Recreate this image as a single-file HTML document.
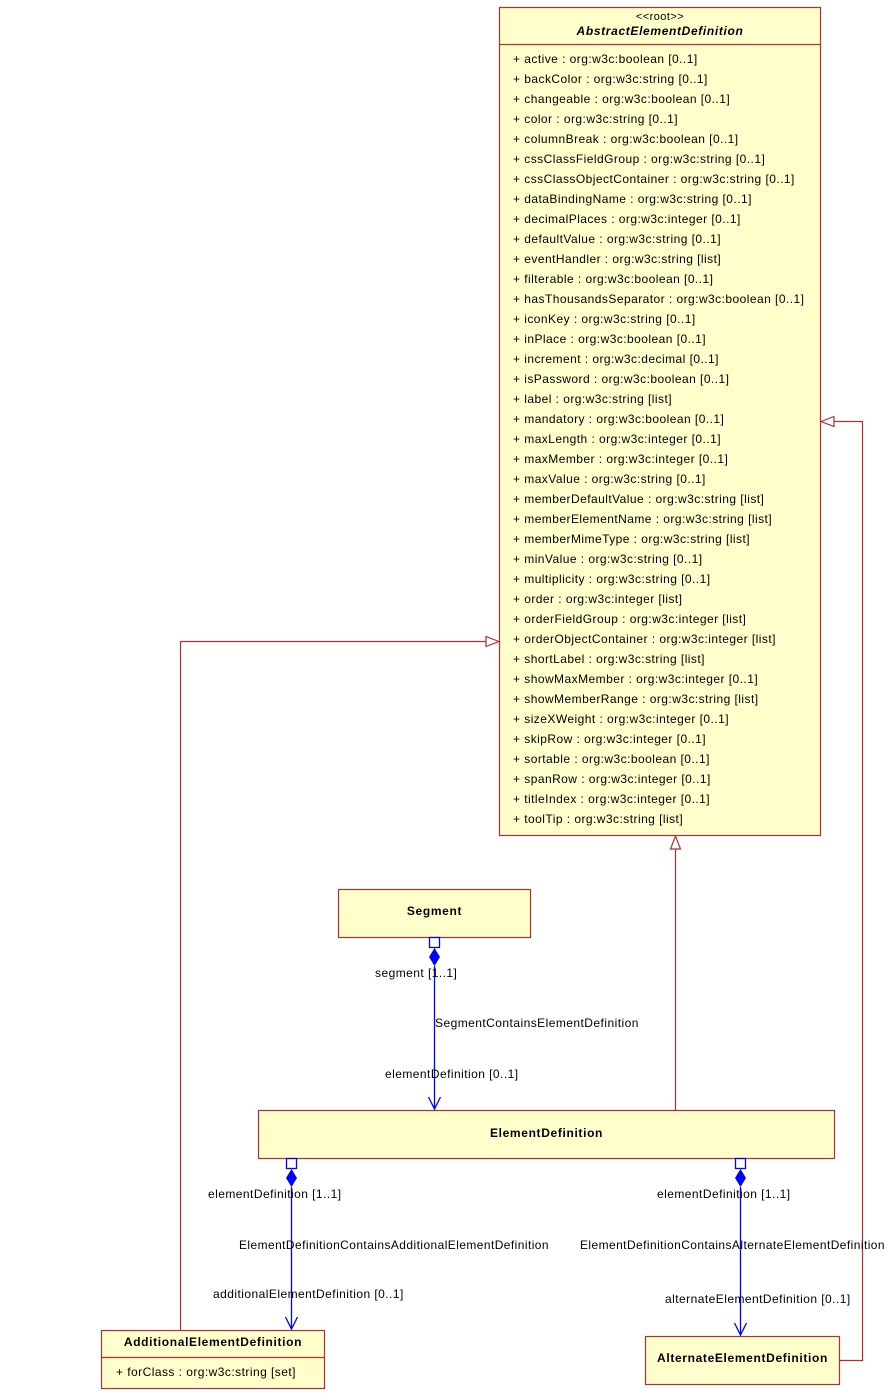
<!DOCTYPE html>
<html><head><meta charset="utf-8"><style>
html,body{margin:0;padding:0;background:#fff;}
svg{display:block;}
text{font-family:"Liberation Sans",Arial,sans-serif;font-size:12px;fill:#000;letter-spacing:0.45px;}
.b{font-weight:bold;letter-spacing:0.65px;}
</style></head><body>
<svg width="891" height="1395" viewBox="0 0 891 1395" xmlns="http://www.w3.org/2000/svg">
<g fill="#ffffcc" stroke="#b03030" stroke-width="1.2">
<rect x="499.5" y="7.5" width="321" height="828"/>
<line x1="499.5" y1="44.5" x2="820.5" y2="44.5"/>
<rect x="338.5" y="889.5" width="192" height="48"/>
<rect x="258.5" y="1110.5" width="576" height="48"/>
<rect x="101.5" y="1330.5" width="223" height="58"/>
<line x1="101.5" y1="1357.5" x2="324.5" y2="1357.5"/>
<rect x="645.5" y="1336.5" width="194" height="48"/>
</g>
<g fill="none" stroke="#b03030" stroke-width="1.2">
<polyline points="675.5,1110 675.5,849"/>
<polygon points="675.5,836 670.5,849 680.5,849" fill="#fff"/>
<polyline points="180.5,1330 180.5,641.5 486,641.5"/>
<polygon points="499,641.5 486,636.5 486,646.5" fill="#fff"/>
<polyline points="839.5,1360.5 862.5,1360.5 862.5,421.5 834,421.5"/>
<polygon points="821,421.5 834,416.5 834,426.5" fill="#fff"/>
</g>
<g stroke="#0000ff" stroke-width="1.3" fill="none">
<rect x="429.5" y="937.5" width="10" height="10" fill="#fff"/>
<line x1="434.5" y1="966" x2="434.5" y2="1109"/>
<polyline points="428.5,1097 434.5,1109 440.5,1097"/>
<rect x="286.5" y="1158.5" width="10" height="10" fill="#fff"/>
<line x1="291.5" y1="1187" x2="291.5" y2="1329"/>
<polyline points="285.5,1317 291.5,1329 297.5,1317"/>
<rect x="735.5" y="1158.5" width="10" height="10" fill="#fff"/>
<line x1="740.5" y1="1187" x2="740.5" y2="1335"/>
<polyline points="734.5,1323 740.5,1335 746.5,1323"/>
</g>
<g fill="#0000ff">
<polygon points="434.5,948 440,957 434.5,966 429,957"/>
<polygon points="291.5,1169 297,1178 291.5,1187 286,1178"/>
<polygon points="740.5,1169 746,1178 740.5,1187 735,1178"/>
</g>
<text x="660" y="20" text-anchor="middle" style="font-size:11px">&lt;&lt;root&gt;&gt;</text>
<text x="660" y="35" text-anchor="middle" class="b" font-style="italic">AbstractElementDefinition</text>
<g>
<text x="513" y="63">+ active : org:w3c:boolean [0..1]</text>
<text x="513" y="83">+ backColor : org:w3c:string [0..1]</text>
<text x="513" y="103">+ changeable : org:w3c:boolean [0..1]</text>
<text x="513" y="123">+ color : org:w3c:string [0..1]</text>
<text x="513" y="143">+ columnBreak : org:w3c:boolean [0..1]</text>
<text x="513" y="163">+ cssClassFieldGroup : org:w3c:string [0..1]</text>
<text x="513" y="183">+ cssClassObjectContainer : org:w3c:string [0..1]</text>
<text x="513" y="203">+ dataBindingName : org:w3c:string [0..1]</text>
<text x="513" y="223">+ decimalPlaces : org:w3c:integer [0..1]</text>
<text x="513" y="243">+ defaultValue : org:w3c:string [0..1]</text>
<text x="513" y="263">+ eventHandler : org:w3c:string [list]</text>
<text x="513" y="283">+ filterable : org:w3c:boolean [0..1]</text>
<text x="513" y="303">+ hasThousandsSeparator : org:w3c:boolean [0..1]</text>
<text x="513" y="323">+ iconKey : org:w3c:string [0..1]</text>
<text x="513" y="343">+ inPlace : org:w3c:boolean [0..1]</text>
<text x="513" y="363">+ increment : org:w3c:decimal [0..1]</text>
<text x="513" y="383">+ isPassword : org:w3c:boolean [0..1]</text>
<text x="513" y="403">+ label : org:w3c:string [list]</text>
<text x="513" y="423">+ mandatory : org:w3c:boolean [0..1]</text>
<text x="513" y="443">+ maxLength : org:w3c:integer [0..1]</text>
<text x="513" y="463">+ maxMember : org:w3c:integer [0..1]</text>
<text x="513" y="483">+ maxValue : org:w3c:string [0..1]</text>
<text x="513" y="503">+ memberDefaultValue : org:w3c:string [list]</text>
<text x="513" y="523">+ memberElementName : org:w3c:string [list]</text>
<text x="513" y="543">+ memberMimeType : org:w3c:string [list]</text>
<text x="513" y="563">+ minValue : org:w3c:string [0..1]</text>
<text x="513" y="583">+ multiplicity : org:w3c:string [0..1]</text>
<text x="513" y="603">+ order : org:w3c:integer [list]</text>
<text x="513" y="623">+ orderFieldGroup : org:w3c:integer [list]</text>
<text x="513" y="643">+ orderObjectContainer : org:w3c:integer [list]</text>
<text x="513" y="663">+ shortLabel : org:w3c:string [list]</text>
<text x="513" y="683">+ showMaxMember : org:w3c:integer [0..1]</text>
<text x="513" y="703">+ showMemberRange : org:w3c:string [list]</text>
<text x="513" y="723">+ sizeXWeight : org:w3c:integer [0..1]</text>
<text x="513" y="743">+ skipRow : org:w3c:integer [0..1]</text>
<text x="513" y="763">+ sortable : org:w3c:boolean [0..1]</text>
<text x="513" y="783">+ spanRow : org:w3c:integer [0..1]</text>
<text x="513" y="803">+ titleIndex : org:w3c:integer [0..1]</text>
<text x="513" y="823">+ toolTip : org:w3c:string [list]</text>
</g>
<text x="434.5" y="915" text-anchor="middle" class="b">Segment</text>
<text x="546.5" y="1137" text-anchor="middle" class="b">ElementDefinition</text>
<text x="213" y="1346" text-anchor="middle" class="b">AdditionalElementDefinition</text>
<text x="116" y="1376">+ forClass : org:w3c:string [set]</text>
<text x="742.5" y="1362" text-anchor="middle" class="b">AlternateElementDefinition</text>
<text x="375" y="977">segment [1..1]</text>
<text x="435" y="1027">SegmentContainsElementDefinition</text>
<text x="385" y="1078">elementDefinition [0..1]</text>
<text x="208" y="1198">elementDefinition [1..1]</text>
<text x="239" y="1249" textLength="310" lengthAdjust="spacingAndGlyphs">ElementDefinitionContainsAdditionalElementDefinition</text>
<text x="213" y="1298">additionalElementDefinition [0..1]</text>
<text x="657" y="1198">elementDefinition [1..1]</text>
<text x="580" y="1249" textLength="305" lengthAdjust="spacingAndGlyphs">ElementDefinitionContainsAlternateElementDefinition</text>
<text x="665" y="1303">alternateElementDefinition [0..1]</text>
</svg>
</body></html>
